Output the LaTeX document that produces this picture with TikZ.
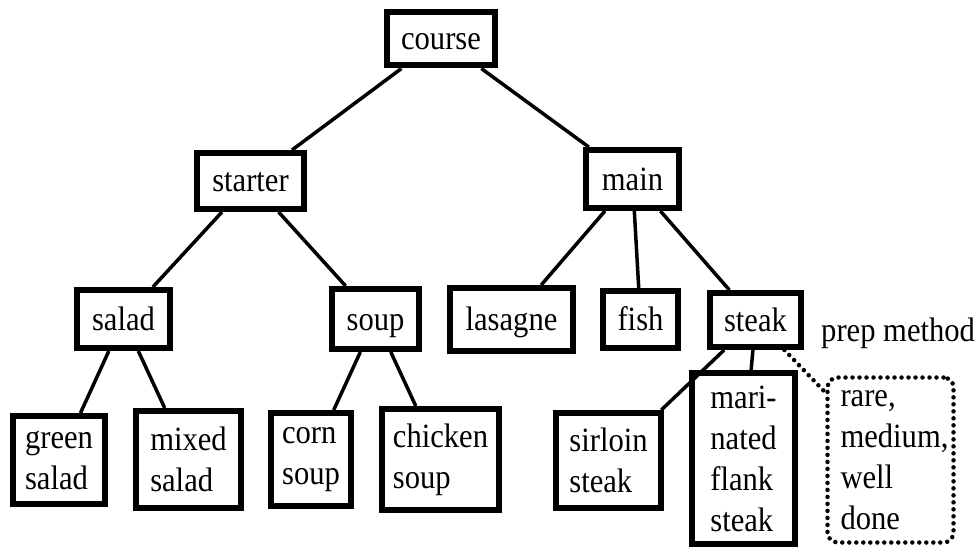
\documentclass[tikz,border=0pt]{standalone}
\usepackage{fontspec}
\setmainfont{Liberation Serif}[FakeStretch=0.9]
\begin{document}
\begin{tikzpicture}[x=1pt,y=-1pt,
  every node/.style={font=\fontsize{34}{41}\selectfont},
  item/.style={draw, line width=6pt, inner sep=0pt, align=left},
  oneline/.style={text height=22pt, text depth=0pt},
  dim/.style 2 args={minimum width=#1pt, minimum height=#2pt},
  link/.style={line width=3.5pt},
  dotlink/.style={line width=4.5pt, line cap=round, dash pattern=on 0pt off 7pt},
  choice/.style={draw, line width=4.5pt, line cap=round, dash pattern=on 0pt off 7pt,
                 rounded corners=10pt, inner sep=0pt, align=left}
]
\useasboundingbox (0,0) rectangle (979,548);

% menu tree
\node[item, oneline, dim={108}{53}]  (course)  at (441,39)      {course};
\node[item, oneline, dim={107}{56}]  (starter) at (250.5,181)   {starter};
\node[item, oneline, dim={93}{58}]   (main)    at (632.5,179)   {main};
\node[item, oneline, dim={93}{58}]   (salad)   at (123.5,319)   {salad};
\node[item, oneline, dim={87}{60}]   (soup)    at (375.5,319)   {soup};
\node[item, oneline, dim={123}{63}]  (lasagne) at (511.5,319.5) {lasagne};
\node[item, oneline, dim={75}{57}]   (fish)    at (640.5,319.5) {fish};
\node[item, oneline, dim={91}{54}]   (steak)   at (755.5,320)   {steak};
\node[item, dim={92}{88}]   (green)   at (59,460)      {green\\salad};
\node[item, dim={105}{97}]  (mixed)   at (188.5,459.5) {mixed\\salad};
\node[item, dim={80}{93}]   (corn)    at (311,459.5)   {corn\\soup};
\node[item, dim={117}{101}] (chicken) at (440.5,459.5) {chicken\\soup};
\node[item, dim={105}{95}]  (sirloin) at (608.5,460.5) {sirloin\\steak};
\node[item, dim={103}{171}] (flank)   at (743.5,458.5) {mari-\\nated\\flank\\steak};
\node[choice, dim={126}{165}, text width=100pt] (prepopts) at (890.5,460) {rare,\\medium,\\well\\done};
\node[anchor=base west, inner sep=0pt] (preplabel) at (821,341) {prep method};

% connectors
\draw[link] (course) -- (starter);
\draw[link] (course) -- (main);
\draw[link] (starter) -- (salad);
\draw[link] (starter) -- (soup);
\draw[link] (main) -- (lasagne);
\draw[link] (main) -- (fish);
\draw[link] (main) -- (steak);
\draw[link] (salad) -- (green);
\draw[link] (salad) -- (mixed);
\draw[link] (soup) -- (corn);
\draw[link] (soup) -- (chicken);
\draw[link] (steak) -- (sirloin);
\draw[link] (steak) -- (flank);
\draw[dotlink] (steak) -- (prepopts);
\end{tikzpicture}
\end{document}
